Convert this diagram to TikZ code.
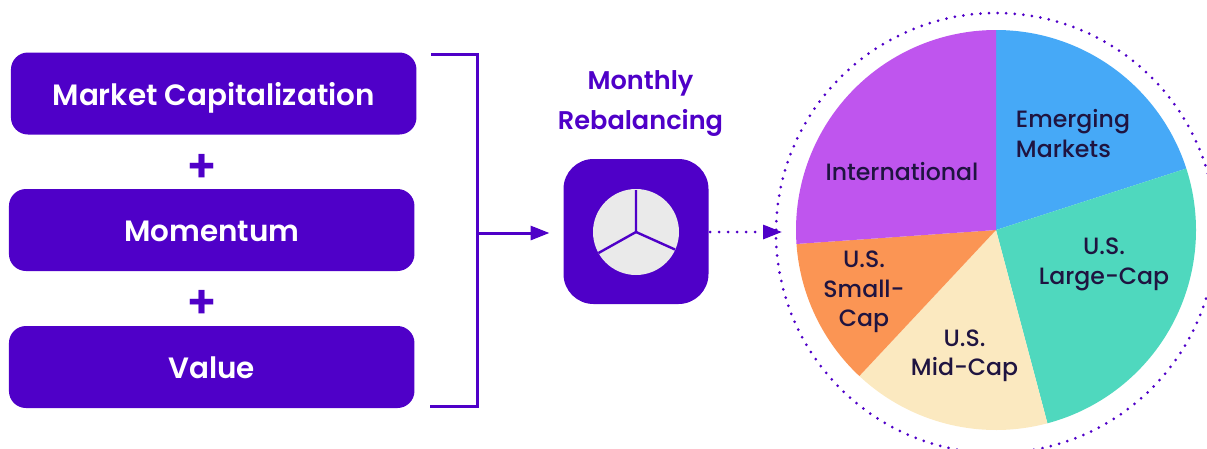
\documentclass[tikz,border=0pt]{standalone}
\usepackage{fontspec}
\setmainfont{Poppins}[UprightFont=* Medium,BoldFont=* SemiBold]
\usetikzlibrary{arrows.meta}
\definecolor{brand}{HTML}{4F00C8}
\definecolor{ink}{HTML}{1F1440}
\definecolor{emerg}{HTML}{46A9F7}
\definecolor{large}{HTML}{4FD8BE}
\definecolor{midc}{HTML}{FBE9C0}
\definecolor{small}{HTML}{FB9554}
\definecolor{intl}{HTML}{BF55EE}
\definecolor{pale}{HTML}{EAEAEA}
\newcommand{\boxlabel}[1]{\raisebox{-11.6pt}[0pt][0pt]{#1}}
\tikzset{
  x=1pt,y=-1pt,
  factor/.style={fill=brand,rounded corners=17pt,minimum width=405.5pt,minimum height=82pt,inner sep=0pt,
    text=white,font=\bfseries\fontsize{29.4}{32}\selectfont},
  plus/.style={text=brand,font=\bfseries\fontsize{46}{46}\selectfont,inner sep=0pt},
  slice/.style={align=center,text=ink,inner sep=0pt,font=\fontsize{23.6}{29.3}\selectfont},
  head/.style={align=center,text=brand,inner sep=0pt,font=\bfseries\fontsize{25.6}{40}\selectfont},
  conn/.style={draw=brand,line width=3pt},
  tip/.style={-{Triangle[length=19pt,width=14pt]}},
  spoke/.style={draw=brand,line width=2.4pt},
}
\begin{document}
\begin{tikzpicture}
\clip (0,0) rectangle (1207,448);
% factor boxes
\node[factor] (cap) at (213.7,93.5) {\boxlabel{Market Capitalization}};
\node[factor] (mom) at (211.7,230) {\boxlabel{Momentum}};
\node[factor] (val) at (211.7,367) {\boxlabel{Value}};
\node[plus] (p1) at (202,168) {+};
\node[plus] (p2) at (202,304) {+};
% bracket
\coordinate (bt) at (431,54);
\coordinate (tr) at (477,54);
\coordinate (br) at (477,406.5);
\coordinate (bb) at (430,406.5);
\coordinate (bm) at (477,233);
\draw[conn,line join=miter] (bt) -- (tr) -- (br) -- (bb);
% rebalancing
\node[head] (title) at (640.5,104) {Monthly\\Rebalancing};
\node[fill=brand,rounded corners=30pt,minimum width=145pt,minimum height=145pt,inner sep=0pt] (reb) at (636,231.5) {};
\node[circle,fill=pale,minimum size=86pt,inner sep=0pt] (dial) at (636,232) {};
\coordinate (s1) at (636,190);
\coordinate (s2) at (598.5,253);
\coordinate (s3) at (675,249.5);
\draw[spoke] (s1) -- (dial.center) -- (s2);
\draw[spoke] (dial.center) -- (s3);
\draw[conn,tip] (bm) -- (549.5,233);
% pie
\coordinate (c) at (996,230);
\fill[emerg] (c) -- ++(0,-200) arc[start angle=90,end angle=17.9,x radius=200,y radius=-200] -- cycle;
\fill[large] (c) -- ++(17.9:200 and -200) arc[start angle=17.9,end angle=-75.1,x radius=200,y radius=-200] -- cycle;
\fill[midc] (c) -- ++(-75.1:200 and -200) arc[start angle=-75.1,end angle=-133.1,x radius=200,y radius=-200] -- cycle;
\fill[small] (c) -- ++(-133.1:200 and -200) arc[start angle=-133.1,end angle=-176,x radius=200,y radius=-200] -- cycle;
\fill[intl] (c) -- ++(184:200 and -200) arc[start angle=184,end angle=90,x radius=200,y radius=-200] -- cycle;
\node[circle,minimum size=440pt,inner sep=0pt,draw=brand,line width=3pt,line cap=round,dash pattern=on 0pt off 8.6pt] (ring) at (996,233) {};
\coordinate (ringhit) at (782,232);
\draw[conn,tip,line cap=round,dash pattern=on 0pt off 9pt] (710,232) -- (ringhit);
\node[slice,align=left] (em) at (1073,133.5) {Emerging\\Markets};
\node[slice] (ll) at (1104,264.5) {U.S.\\Large-Cap};
\node[slice] (mc) at (964.5,356) {U.S.\\Mid-Cap};
\node[slice] (sc) at (864,292) {U.S.\\Small-\\Cap};
\node[slice] (it) at (902,171.5) {International};
\end{tikzpicture}
\end{document}
